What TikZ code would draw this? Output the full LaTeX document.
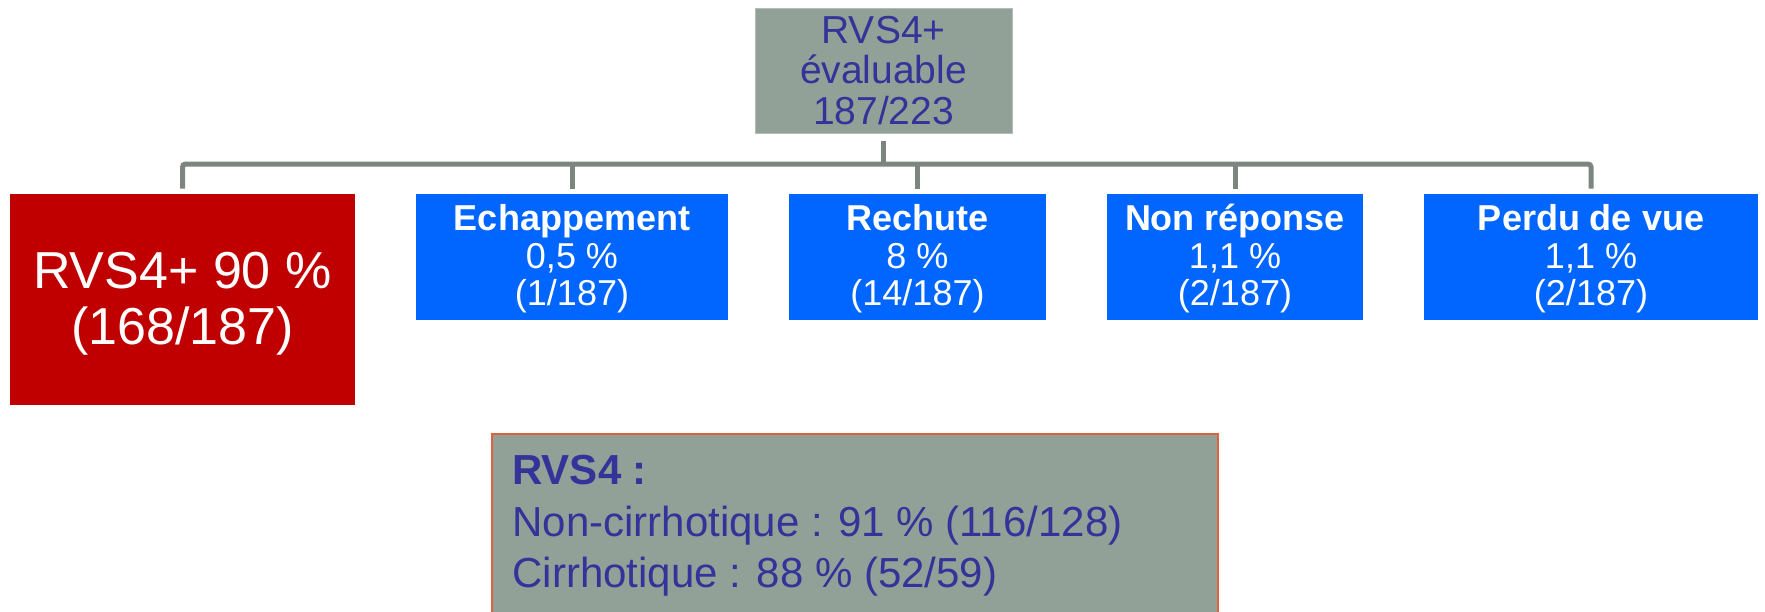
\documentclass[tikz,border=0pt]{standalone}
\usepackage{fontspec}
\setmainfont{Liberation Sans}
\definecolor{boxgray}{HTML}{92A197}
\definecolor{conngray}{HTML}{7C857E}
\definecolor{txtblue}{HTML}{333399}
\definecolor{redbox}{HTML}{C00000}
\definecolor{bluebox}{HTML}{0066FF}
\definecolor{edgeorange}{HTML}{E0603F}
\tikzset{
  topbox/.style={fill=boxgray, draw=boxgray!70!white, line width=0.5pt, inner sep=0pt, align=center,
    text=txtblue, font=\fontsize{19.5}{20.4}\selectfont, minimum width=128.5pt, minimum height=62.5pt},
  redstyle/.style={fill=redbox, inner sep=0pt, align=center, text=white,
    font=\fontsize{26}{28}\selectfont, minimum width=172.5pt, minimum height=105.5pt},
  bluestyle/.style={fill=bluebox, inner sep=0pt, align=center, text=white,
    font=\fontsize{18}{18.75}\selectfont, minimum height=63pt},
  rvsstyle/.style={fill=boxgray, draw=edgeorange, line width=1pt, inner sep=0pt,
    minimum width=363pt, minimum height=120pt, anchor=north west},
  rvstext/.style={inner sep=0pt, align=left, anchor=north west, text=txtblue,
    font=\fontsize{21}{25.75}\selectfont},
  conn/.style={draw=conngray, line width=2.5pt}
}
\begin{document}
\begin{tikzpicture}[x=0.5pt, y=-0.5pt]
\useasboundingbox (0,0) rectangle (1765,611);
\clip (0,0) rectangle (1765,611);
\node[topbox] (top) at (883.5,70.5) {RVS4+\\évaluable\\187/223};
\node[redstyle] (red) at (182.5,299.5) {};
\node[inner sep=0pt, align=center, text=white, font=\fontsize{26}{28}\selectfont] (redtxt) at (182.5,304) {RVS4+ 90 \%\\(168/187)};
\node[bluestyle, minimum width=156pt] (ech) at (572,257) {};
\node[bluestyle, minimum width=128.5pt] (rech) at (917.5,257) {};
\node[bluestyle, minimum width=128pt] (nonr) at (1235,257) {};
\node[bluestyle, minimum width=167pt] (perdu) at (1591,257) {};
\tikzset{bluetext/.style={inner sep=0pt, align=center, text=white, font=\fontsize{18}{18.75}\selectfont}}
\node[bluetext] at ([yshift=-1pt]ech.center) {\textbf{Echappement}\\0,5 \%\\(1/187)};
\node[bluetext] at ([yshift=-1pt]rech.center) {\textbf{Rechute}\\8 \%\\(14/187)};
\node[bluetext] at ([yshift=-1pt]nonr.center) {\textbf{Non réponse}\\1,1 \%\\(2/187)};
\node[bluetext] at ([yshift=-1pt]perdu.center) {\textbf{Perdu de vue}\\1,1 \%\\(2/187)};
\coordinate (bary) at (0,164);
\draw[conn, rounded corners=1.5pt] ([yshift=2.5pt]red.north) -- (red.north |- bary) -- (perdu.north |- bary) -- ([yshift=2.5pt]perdu.north);
\draw[conn] ([yshift=-3.5pt]top.south) -- (top.south |- bary);
\draw[conn] ([yshift=2.5pt]ech.north) -- (ech.north |- bary);
\draw[conn] ([yshift=2.5pt]rech.north) -- (rech.north |- bary);
\draw[conn] ([yshift=2.5pt]nonr.north) -- (nonr.north |- bary);
\node[rvsstyle] (rvs) at (491,433) {};
\node[rvstext] (rvst) at ([xshift=10.5pt, yshift=-11pt]rvs.north west) {\textbf{RVS4 :}\\Non-cirrhotique : 91 \% (116/128)\\Cirrhotique : 88 \% (52/59)};
\end{tikzpicture}
\end{document}
